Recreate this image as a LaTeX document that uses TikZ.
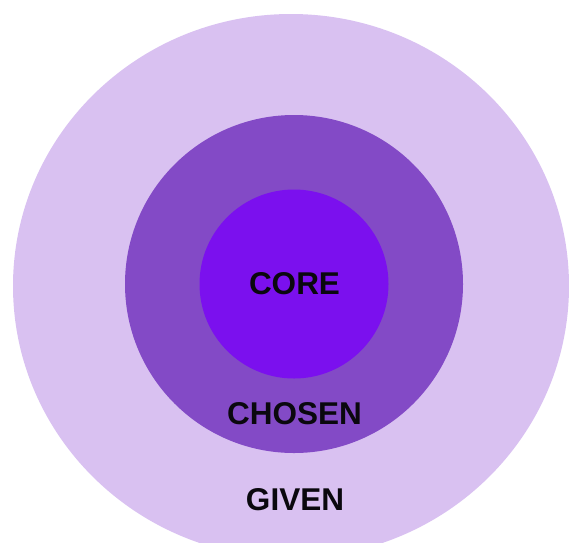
\documentclass[tikz,border=0pt]{standalone}
\usepackage{fontspec}
\setmainfont{Liberation Sans}
\usepackage{tikz}
\usetikzlibrary{shapes.geometric, positioning}
\definecolor{givenfill}{RGB}{217,193,241}
\definecolor{chosenfill}{RGB}{131,74,198}
\definecolor{corefill}{RGB}{123,16,238}
\definecolor{labeltext}{RGB}{10,8,14}
\tikzset{
  givenring/.style={ellipse, fill=givenfill, draw=none,
    minimum width=556pt, minimum height=544pt, inner sep=0pt},
  chosenring/.style={circle, fill=chosenfill, draw=none,
    minimum size=338pt, inner sep=0pt},
  corering/.style={circle, fill=corefill, draw=none,
    minimum size=189pt, inner sep=0pt},
  ringlabel/.style={text=labeltext, inner sep=0pt,
    font=\fontsize{31.5}{36}\selectfont\bfseries}
}
\begin{document}
\begin{tikzpicture}[x=1pt, y=-1pt]
  \useasboundingbox (0,0) rectangle (569,542);
  % rings, outside in
  \node[givenring]  (given)  at (291,286) {};
  \node[chosenring] (chosen) at (294,284) {};
  \node[corering]   (core)   at (294,284) {};
  % labels
  \node[ringlabel] (corelbl)   at (294.5,284) {CORE};
  \node[ringlabel] (chosenlbl) at (294.5,414) {CHOSEN};
  \node[ringlabel] (givenlbl)  at (295,500)   {GIVEN};
\end{tikzpicture}
\end{document}
